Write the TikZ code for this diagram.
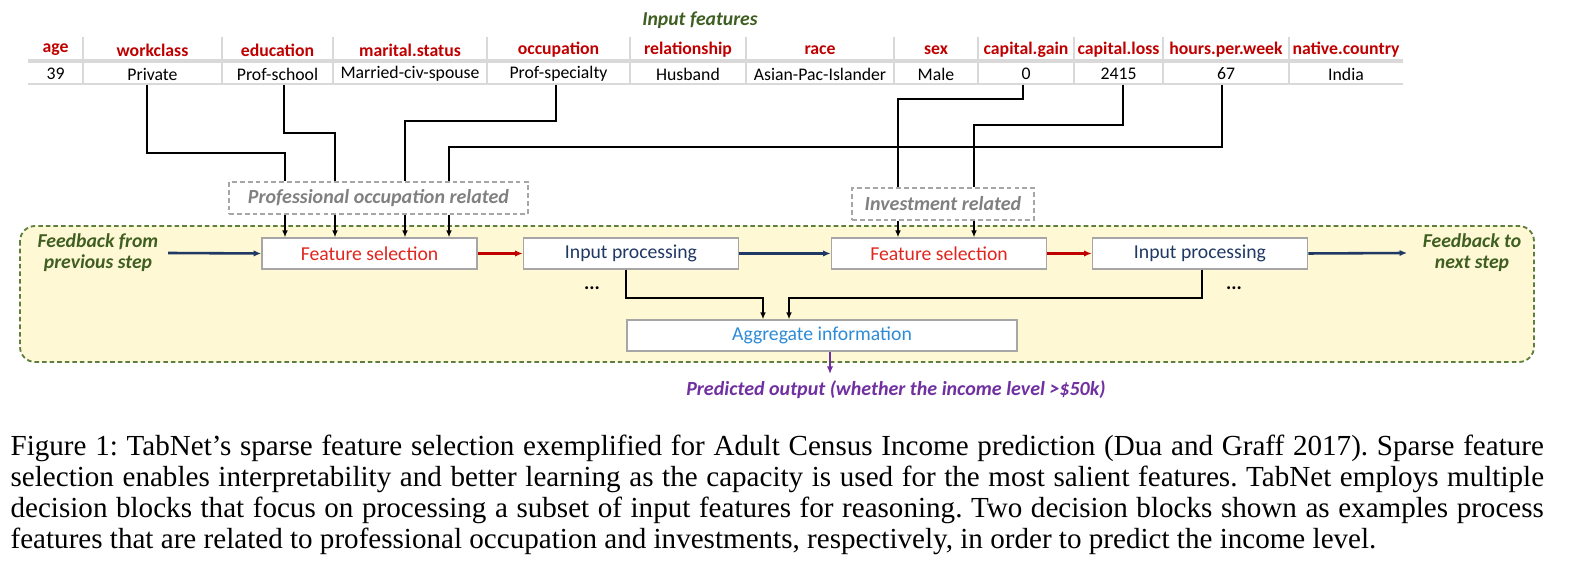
\documentclass[tikz,border=0pt]{standalone}
\usepackage{fontspec}
\setmainfont{Liberation Serif}
\newfontfamily\calibri{Carlito}
\usetikzlibrary{arrows.meta}
\definecolor{hdred}{HTML}{C00000}
\definecolor{fsred}{HTML}{E0261E}
\definecolor{ipnavy}{HTML}{1F3864}
\definecolor{aggblue}{HTML}{2E8BD6}
\definecolor{olive}{HTML}{3F5F22}
\definecolor{outpurple}{HTML}{7030A0}
\definecolor{cellgrey}{HTML}{D9D9D9}
\definecolor{boxgrey}{HTML}{A6A6A6}
\definecolor{panelfill}{HTML}{FFF8D4}
\definecolor{paneledge}{HTML}{5E7E3E}
\tikzset{
  tabfont/.style={font=\calibri\fontsize{5.85}{7}\selectfont},
  hdcell/.style={tabfont,font=\calibri\bfseries\fontsize{5.85}{7}\selectfont,text=hdred,inner sep=0pt},
  valcell/.style={tabfont,inner sep=0pt,minimum height=6.6pt},
  blockbox/.style={draw=boxgrey,fill=white,line width=0.45pt,minimum width=71pt,minimum height=10.2pt,inner sep=0pt,font=\calibri\fontsize{6.5}{7.5}\selectfont},
  groupbox/.style={draw=boxgrey,dashed,dash pattern=on 1.6pt off 1pt,line width=0.45pt,inner sep=0pt,text=gray,font=\calibri\bfseries\itshape\fontsize{6.6}{7.5}\selectfont},
  sidetext/.style={align=center,text=olive,font=\calibri\bfseries\itshape\fontsize{6.5}{7}\selectfont},
  wire/.style={line width=0.55pt,black},
  wirearrow/.style={wire,-{Latex[length=2.3pt,width=1.9pt]}},
  flow/.style={line width=0.85pt,-{Latex[length=2.5pt,width=2.1pt]}}
}
\begin{document}
\begin{tikzpicture}[x=0.33pt,y=-0.33pt]
  \useasboundingbox (0,0) rectangle (1570,582);
  % input table
  \node[sidetext] (title) at (700,20) {Input features};
  \foreach \cx/\hd/\vl [count=\i] in {55.5/age/39, 152.5/workclass/Private, 277.5/education/Prof-school,
    410/marital.status/Married-civ-spouse, 558.5/occupation/Prof-specialty, 688/relationship/Husband,
    820/race/Asian-Pac-Islander, 936/sex/Male, 1026/capital.gain/0, 1118.5/capital.loss/2415,
    1226/hours.per.week/67, 1346/native.country/India}
    {
      \node[hdcell] (h\i) at (\cx,50) {\hd};
      \node[valcell] (v\i) at (\cx,74) {\vl};
    }
  \foreach \sx in {83,222,333,487,630,746,894,978,1074,1163,1289}
    \draw[cellgrey,line width=0.35pt] (\sx,37) -- (\sx,84);
  \draw[cellgrey,line width=1pt] (28,61) -- (1403,61);
  \draw[cellgrey,line width=0.35pt] (28,84) -- (1403,84);
  % decision panel
  \draw[paneledge,fill=panelfill,dashed,dash pattern=on 1.5pt off 1pt,line width=0.6pt,rounded corners=5pt]
    (20,226) rectangle (1534,362);
  \node[groupbox,minimum width=98.7pt,minimum height=10.6pt] (prof) at (378.5,198) {Professional occupation related};
  \node[groupbox,minimum width=60pt,minimum height=10.6pt] (inv) at (943,204) {Investment related};
  \node[blockbox,text=fsred] (fs1) at (369.5,253.5) {Feature selection};
  \node[blockbox,text=ipnavy] (ip1) at (631,253.5) {Input processing};
  \node[blockbox,text=fsred] (fs2) at (939,253.5) {Feature selection};
  \node[blockbox,text=ipnavy] (ip2) at (1200,253.5) {Input processing};
  \node[blockbox,text=aggblue,minimum width=128.7pt] (agg) at (822,335.5) {Aggregate information};
  \node[sidetext,inner xsep=3pt] (fbin) at (98,253) {Feedback from\\previous step};
  \node[sidetext,inner xsep=5pt] (fbout) at (1472,253) {Feedback to\\next step};
  \node[font=\calibri\bfseries\fontsize{6.5}{7}\selectfont] (dots1) at (592,288) {...};
  \node[font=\calibri\bfseries\fontsize{6.5}{7}\selectfont] (dots2) at (1234,288) {...};
  \node[text=outpurple,font=\calibri\bfseries\itshape\fontsize{6.6}{7}\selectfont] (pred) at (896,390)
    {Predicted output (whether the income level >\$50k)};
  \coordinate (outend) at (830,374);
  % features into groups
  \draw[wire] (147,0 |- v2.south) |- (285,153) -- (285,0 |- prof.north);
  \draw[wire] (284,0 |- v3.south) |- (335,133) -- (335,0 |- prof.north);
  \draw[wire] (556,0 |- v5.south) |- (405,121) -- (405,0 |- prof.north);
  \draw[wire] (1222,0 |- v11.south) |- (449,147) -- (449,0 |- prof.north);
  \draw[wire] (1023,0 |- v9.south) |- (898,99) -- (898,0 |- inv.north);
  \draw[wire] (1123,0 |- v10.south) |- (974,125) -- (974,0 |- inv.north);
  \foreach \ax in {285,335,405,449}
    \draw[wirearrow] (\ax,0 |- prof.south) -- (\ax,0 |- fs1.north);
  \foreach \ax in {898,974}
    \draw[wirearrow] (\ax,0 |- inv.south) -- (\ax,0 |- fs2.north);
  % step flow
  \draw[flow,ipnavy] (fbin.east) -- (fs1.west);
  \draw[flow,hdred] (fs1.east) -- (ip1.west);
  \draw[flow,ipnavy] (ip1.east) -- (fs2.west);
  \draw[flow,hdred] (fs2.east) -- (ip2.west);
  \draw[flow,ipnavy] (ip2.east) -- (fbout.west);
  \draw[wirearrow] (626,0 |- ip1.south) |- (763,298) -- (763,0 |- agg.north);
  \draw[wirearrow] (1202,0 |- ip2.south) |- (789,298) -- (789,0 |- agg.north);
  \draw[flow,outpurple] (830,0 |- agg.south) -- (outend);
  % caption
  \node[anchor=north west,inner sep=0pt,text width=506pt,align=justify,
    font=\fontsize{9.6}{10.23}\selectfont] (caption) at (10,434)
    {\frenchspacing\hyphenpenalty=10000 \emergencystretch=2em
     Figure 1: TabNet's sparse feature selection exemplified for Adult Census Income prediction (Dua and Graff 2017). Sparse feature\linebreak
     selection enables interpretability and better learning as the capacity is used for the most salient features. TabNet employs multiple\linebreak
     decision blocks that focus on processing a subset of input features for reasoning. Two decision blocks shown as examples process\linebreak
     features that are related to professional occupation and investments, respectively, in order to predict the income level.};
\end{tikzpicture}
\end{document}
